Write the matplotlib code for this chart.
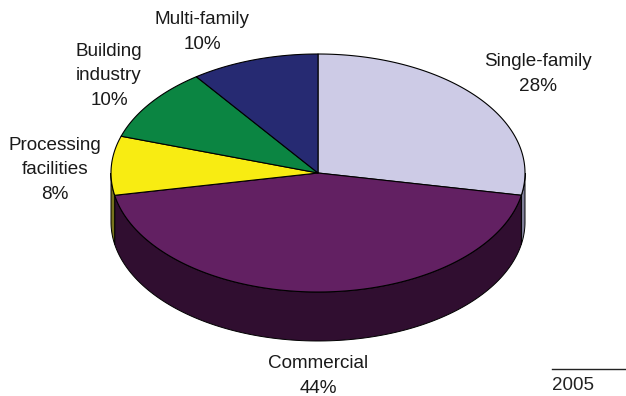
import matplotlib
matplotlib.use("Agg")
import matplotlib.pyplot as plt
from matplotlib.patches import Polygon
import numpy as np

plt.rcParams['font.family'] = ['Liberation Sans', 'DejaVu Sans']

labels = ["Single-family\n28%", "Commercial\n44%", "Processing\nfacilities\n8%",
          "Building\nindustry\n10%", "Multi-family\n10%"]
shares = [28, 44, 8, 10, 10]
top_colors = ["#cdcbe6", "#622062", "#f8ec12", "#0b8542", "#262a72"]
wall_colors = ["#7f7e98", "#300e30", "#77721c", "#0b8542", "#262a72"]
label_pos = [(538, 74), (318, 376), (55, 170), (109, 76), (202, 32)]

# pie geometry in pixels
cx, cy = 318, 173
rx, ry = 207, 119
depth = 49


def rim(a0, a1):
    # angles run clockwise from the top of the ellipse
    t = np.radians(np.linspace(a0, a1, 120))
    return np.column_stack([cx + rx * np.sin(t), cy - ry * np.cos(t)])


fig = plt.figure(figsize=(6.26, 3.96), dpi=100)
ax = fig.add_axes([0, 0, 1, 1])
ax.set_xlim(0, 626)
ax.set_ylim(396, 0)
ax.axis("off")

edges = np.concatenate([[0], np.cumsum(shares)]) * 3.6

# side wall, only the front half of the ellipse shows
for i in range(len(shares)):
    a0, a1 = max(edges[i], 90), min(edges[i + 1], 270)
    if a1 <= a0:
        continue
    top = rim(a0, a1)
    bottom = top[::-1] + [0, depth]
    ax.add_patch(Polygon(np.vstack([top, bottom]), closed=True, fc=wall_colors[i],
                         ec="black", lw=0.7, zorder=2))

# top face
for i in range(len(shares)):
    pts = np.vstack([[cx, cy], rim(edges[i], edges[i + 1])])
    ax.add_patch(Polygon(pts, closed=True, fc=top_colors[i], ec="black", lw=0.8,
                         joinstyle="round", zorder=3))

for text, (x, y) in zip(labels, label_pos):
    ax.text(x, y, text, ha="center", va="center", fontsize=13.6, color="#1a1a1a",
            linespacing=1.58)

ax.plot([552, 626], [369, 369], color="#222222", lw=1)
ax.text(552, 386, "2005", ha="left", va="center", fontsize=13.5, color="#222222")

fig.savefig("out.png", dpi=100)
